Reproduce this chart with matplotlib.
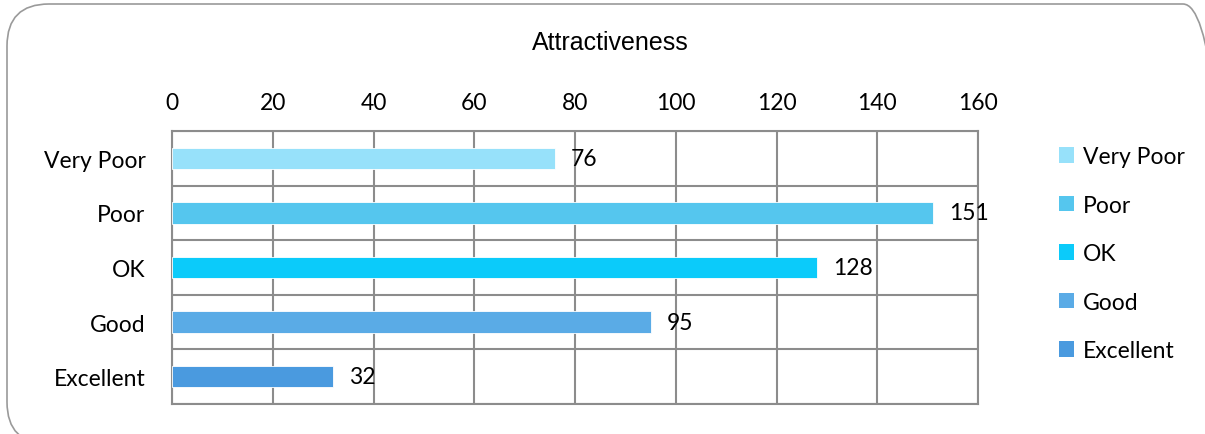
import numpy as np
import matplotlib.pyplot as plt
from matplotlib.patches import FancyBboxPatch, Patch

# data
categories = ['Very Poor', 'Poor', 'OK', 'Good', 'Excellent']
counts = [76, 151, 128, 95, 32]
colors = ['#97E1FA', '#55C6EE', '#0BCBFA', '#5AABE6', '#4A9ADF']
x_ticks = [0, 20, 40, 60, 80, 100, 120, 140, 160]

plt.rcParams['font.family'] = ['Lato', 'DejaVu Sans']

fig = plt.figure(figsize=(12.05, 4.35), dpi=100)
ax = fig.add_axes([172/1205, 1-405/435, (978-172)/1205, (405-132)/435])

# rounded outer frame, drawn in inches so the corners stay circular
frame = FancyBboxPatch((0.07, -0.10), 12.25 - 0.07, 4.35 + 0.10 - 0.05,
                       boxstyle='round,pad=0,rounding_size=0.42',
                       transform=fig.dpi_scale_trans, facecolor='none',
                       edgecolor='#9a9a9a', linewidth=1.2)
fig.patches.append(frame)

y = np.arange(len(categories))
ax.barh(y, counts, height=0.39, color=colors, edgecolor='white', linewidth=0.6, zorder=3)

for yi, v in zip(y, counts):
    ax.text(v + 3.2, yi, str(v), va='center', ha='left', fontsize=16.5, zorder=4)

ax.set_xlim(0, 160)
ax.set_ylim(len(categories) - 0.5, -0.5)
ax.set_xticks(x_ticks)
ax.xaxis.tick_top()
ax.tick_params(axis='x', length=0, pad=13, labelsize=16.5)
ax.set_yticks(y)
ax.set_yticklabels(categories)
ax.tick_params(axis='y', length=0, pad=19, labelsize=16.5)

ax.set_yticks(np.arange(len(categories) + 1) - 0.5, minor=True)
ax.tick_params(axis='y', which='minor', length=0)
ax.grid(True, axis='x', which='major', color='#8c8c8c', linewidth=1.5, zorder=1)
ax.grid(True, axis='y', which='minor', color='#8c8c8c', linewidth=1.5, zorder=1)
for s in ax.spines.values():
    s.set_color('#8c8c8c')
    s.set_linewidth(1.5)

fig.text(610/1205, 1-43/435, 'Attractiveness', ha='center', va='center',
         fontsize=18, family='Liberation Sans')

handles = [Patch(facecolor=c, edgecolor='none') for c in colors]
fig.legend(handles, categories, loc='upper left', bbox_to_anchor=(1050/1205, 1-138/435),
           frameon=False, fontsize=16.5, handlelength=0.65, handleheight=0.65,
           handletextpad=0.4, labelspacing=1.2, borderaxespad=0)

fig.savefig('out.png', dpi=100)
